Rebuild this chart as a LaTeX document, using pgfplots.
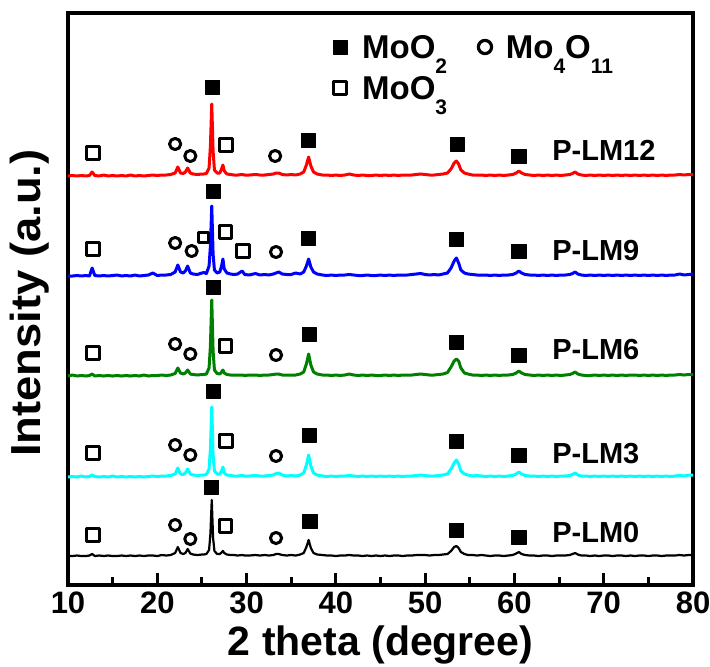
\documentclass[border=0pt]{standalone}
\usepackage{pgfplots}
\pgfplotsset{compat=1.18}
\usepackage{pgfplotstable}
\usepackage{fontspec}
\setmainfont{Liberation Sans}
\newcommand\sub[1]{\raisebox{-0.46em}{\fontsize{10.5}{10.5}\selectfont #1}}

% offsets above each trace's baseline (R: P-LM12, B: P-LM9, G: P-LM6, C: P-LM3, K: P-LM0)
\pgfplotstableread{
x R B G C K
10.0 0 0 0 0 0
10.5 0.5 0 1 0.5 0
11.0 0 0.5 0 0 0.5
11.5 0.5 0 0.5 1 0
12.0 0 0.5 0 0 0
12.4 0.5 0 0.5 0.5 0.5
12.7 4 8 2 2 2
13.0 0.5 0.5 0 0.5 0
13.5 0 0 0.5 0 0.5
14.0 1 0.5 0 0.5 0
14.5 0 0 0.5 0 0.5
15.0 0.5 0.5 0 1 0
15.5 0 1 0.5 0 0
16.0 0.5 0 0 0.5 0.5
16.5 0 0.5 0.5 0 0
17.0 1 0 0 0.5 0.5
17.5 0 1 0.5 0 0
18.0 0.5 0 0 0.5 0.5
18.5 0 0.5 1 0 0
19.0 0.5 1 0 0.5 0.5
19.5 1 3 0.5 1 0.5
20.0 0.5 0.5 0.5 0.5 0
20.5 1 1 1 1 1
21.0 1 1 0.5 1 0.5
21.5 1.5 1.5 1 1.5 1
22.0 3 4 2.5 3 3
22.3 9 11 8 9 9
22.6 3 4 3 3 3
22.9 2.5 3 2 2.5 2
23.15 4 5 3 4 3
23.4 8 10 6 8 7
23.7 3 3 2 3 2.5
24.0 2 2 1.5 2 1.5
24.5 1.5 1.5 1 1.5 1
25.0 2 3 1.5 2 1.5
25.2 2 3.5 1.5 2 1.5
25.5 2.5 2.5 2 2.5 2
25.8 8 10 8 8 6
25.95 30 30 30 28 22
26.1 72 70 76 70 56
26.25 25 22 25 22 18
26.4 6 6 6 6 5
26.7 3 3 2.5 3 2
27.0 3 4 2 3 2
27.2 7 10 4 6 3.5
27.35 11 17 6 10 5
27.5 5 7 3 4 3
27.8 2 3 1.5 2 1.5
28.2 1.5 2 1 1.5 1
28.6 1 1.5 1 1 1
29.0 1 2 1 1 0.5
29.5 1.5 5 1 1.5 1
29.8 1 1.5 0.5 1 0.5
30.3 1 1 1 1 0.5
31.0 1.5 2.5 1 1.5 1
31.5 1 1 0.5 1 0.5
32.0 1 1.5 1 1 1
32.5 1.5 1 1 1.5 0.5
33.0 2 2 1.5 2 1
33.3 3 3 2 3.5 2
33.6 3 4 2 4 2
34.0 1.5 2 1 2 1
34.5 1 1.5 1 1 0.5
35.0 1.5 1.5 1 1.5 1
35.5 1 3 1 1 0.5
36.0 2 2 2 2 1.5
36.4 4 4 4 4 3
36.7 11 10 12 12 9
36.95 19 17 22 22 16
37.2 10 9 11 11 8
37.5 4 4 4 4 3
37.9 2 2 2 2 1.5
38.5 1 1 1 1 1
39.0 1 0.5 1 0.5 0.5
39.5 0.5 1 0.5 1 0.5
40.0 1 0.5 1 0.5 0
40.5 0.5 1 0.5 1 0.5
41.0 1 1 1 1 0.5
41.5 2 1.5 2 1.5 1
42.0 1 1 1 1 0.5
42.5 0.5 0.5 0.5 0.5 0.5
43.0 1 0.5 1 1 0
43.5 0.5 1 0.5 0.5 0.5
44.0 0.5 0.5 1 1 0
44.5 1 0.5 0.5 0.5 0.5
45.0 0.5 1 0.5 1 0
45.5 1 0.5 1 0.5 0.5
46.0 0.5 1 0.5 1 0
46.5 1 0.5 1 0.5 0.5
47.0 0.5 1 0.5 1 0.5
47.5 1 1 1 0.5 0
48.0 1 1 1 1 0.5
48.5 1 1.5 1 1 0.5
49.0 1.5 2 1.5 1.5 1
49.5 2 2.5 2 2 1
50.0 1.5 1.5 1.5 1.5 1
50.5 1 1 1 1 0.5
51.0 1 1.5 1 1 1
51.5 1.5 1 1.5 1.5 1
52.0 2 2 2 2 1.5
52.5 3 3 3.5 3 2
52.9 7 8 9 8 5
53.25 13 15 15 14 9
53.5 15 18 17 17 10
53.75 12 13 15 13 8
54.0 6 6 8 6 4
54.4 3 3 3 3 2
54.8 2 2 2 2 1
55.3 1 1.5 1 1 1
55.8 1 1 1 1.5 0.5
56.3 1 1 0.5 1 1
56.8 0.5 1 1 0.5 0.5
57.3 1 0.5 0.5 1 0
57.8 0.5 1 1 0.5 0.5
58.3 1 0.5 0.5 1 0.5
58.8 0.5 1 1 0.5 0
59.3 1 1 1 1 0.5
59.8 1.5 1.5 1.5 1.5 1
60.2 3 3 3 3 2.5
60.5 5 5 5 5 4
60.8 3 3 3 3 2
61.2 1.5 1.5 1.5 1.5 1
61.7 1 1 1 1 0.5
62.2 0.5 1 0.5 1 0.5
62.7 1 0.5 1 0.5 0
63.2 0.5 1 0.5 1 0.5
63.7 1 0.5 1 0.5 0.5
64.2 0.5 1 0.5 1 0
64.7 1 0.5 1 0.5 0.5
65.2 0.5 1 0.5 1 0.5
65.7 1 1 1 1 0.5
66.2 1.5 1.5 1.5 1.5 1
66.5 2.5 2.5 2.5 2.5 2
66.8 4 4 4 4 3
67.1 2 2 2 2 1.5
67.5 1 1 1 1 0.5
68.0 0.5 0.5 0.5 1 0.5
68.5 1 1 0.5 0.5 0
69.0 0.5 0.5 1 1 0.5
69.5 1 1 0.5 0.5 0
70.0 0.5 0.5 1 1 0.5
70.5 1 1 0.5 0.5 0.5
71.0 0.5 0.5 1 1 0
71.5 1 1 0.5 0.5 0.5
72.0 0.5 0.5 1 1 0.5
72.5 1 1 0.5 0.5 0
73.0 0.5 0.5 1 1 0.5
73.5 1 1 1 0.5 0
74.0 0.5 0.5 0.5 1 0.5
74.5 1 1 1 0.5 0.5
75.0 0.5 0.5 0.5 1 0
75.5 1 1 1 0.5 0.5
76.0 0.5 0.5 0.5 1 0.5
76.5 1 1 1 0.5 0
77.0 0.5 0.5 0.5 1 0.5
77.5 1 1 1 0.5 0.5
78.0 1 1 1 1 0.5
78.5 1.5 2 1.5 1.5 1
79.0 1 1 1 1 0.5
79.5 1.5 1.5 1.5 2 1
80.0 1.5 2 1.5 2 1
}\xrd

\definecolor{xgreen}{RGB}{0,128,0}
\definecolor{xcyan}{RGB}{0,255,255}

\begin{document}
\begin{tikzpicture}
\begin{axis}[
  scale only axis, width=312.5pt, height=286pt,
  xmin=10, xmax=80, ymin=0, ymax=572,
  xtick={10,20,...,80}, minor xtick={15,25,...,75},
  ytick=\empty,
  xtick pos=bottom,
  tick align=inside,
  major tick length=6pt, minor tick length=4pt,
  tick style={line width=1.5pt, black},
  axis line style={line width=2pt},
  /pgf/number format/assume math mode=true,
  xticklabel style={font=\fontsize{15.5}{15.5}\selectfont\bfseries},
  xlabel={2 theta (degree)},
  ylabel={\scalebox{1.08}[1]{Intensity (a.u.)}},
  xlabel style={font=\fontsize{20.5}{20.5}\selectfont\bfseries, at={(axis description cs:0.5,-0.105)}, anchor=center},
  ylabel style={font=\fontsize{21}{21}\selectfont\bfseries, at={(axis description cs:-0.062,0.493)}, anchor=center},
  clip=false,
  every axis plot/.append style={line join=round},
]
\addplot[red, line width=1.5pt] table[x=x, y expr=\thisrow{R}+409] {\xrd};
\addplot[blue, line width=1.5pt] table[x=x, y expr=\thisrow{B}+309] {\xrd};
\addplot[xgreen, line width=1.5pt] table[x=x, y expr=\thisrow{G}+209] {\xrd};
\addplot[xcyan, line width=1.5pt] table[x=x, y expr=\thisrow{C}+108] {\xrd};
\addplot[black, line width=1.1pt] table[x=x, y expr=\thisrow{K}+29] {\xrd};

% MoO2 (filled squares)
\addplot[only marks, mark=square*, mark size=3.55pt, black] coordinates {
 (26.2,498) (36.9,445) (53.6,441) (60.5,429)
 (26.3,394) (36.9,347) (53.5,346) (60.5,334)
 (26.3,298) (37.0,251) (53.5,243) (60.5,230)
 (26.3,194) (37.0,150) (53.5,144) (60.5,130)
 (26.1,98) (37.1,64) (53.5,55) (60.5,48)
 (40.5,538)
};
% MoO3 (open squares)
\addplot[only marks, mark=square, mark size=3.2pt, black, mark options={line width=1.5pt}] coordinates {
 (12.8,432) (27.7,440)
 (12.8,336) (27.65,353) (29.6,334)
 (12.8,232) (27.65,239)
 (12.8,132) (27.7,144)
 (12.8,50) (27.65,59)
 (40.5,497)
};
\addplot[only marks, mark=square, mark size=2.5pt, black, mark options={line width=1.5pt}] coordinates {
 (25.15,348)
};
% Mo4O11 (open circles)
\addplot[only marks, mark=o, mark size=2.8pt, black, mark options={line width=1.5pt}] coordinates {
 (22.0,441) (23.7,429) (33.2,429)
 (22.0,342) (23.85,334) (33.3,333)
 (22.0,241) (23.7,231) (33.3,230)
 (22.0,140) (23.7,130) (33.3,129)
 (22.0,60) (23.7,46) (33.3,47)
};
\addplot[only marks, mark=o, mark size=3.3pt, black, mark options={line width=1.6pt}] coordinates {
 (56.7,538)
};

\begin{scope}[every node/.style={font=\fontsize{14.5}{14.5}\selectfont\bfseries, anchor=west, inner sep=0pt}]
\node at (axis cs:64.2,435) {P-LM12};
\node at (axis cs:64.2,334) {P-LM9};
\node at (axis cs:64.2,235) {P-LM6};
\node at (axis cs:64.2,131) {P-LM3};
\node at (axis cs:64.2,52) {P-LM0};
\end{scope}
\begin{scope}[every node/.style={font=\fontsize{16.5}{16.5}\selectfont\bfseries, anchor=base west, inner sep=0pt}]
\node at (axis cs:42.9,527) {MoO\sub{2}};
\node at (axis cs:59.0,527) {Mo\sub{4}O\sub{11}};
\node at (axis cs:42.9,486) {MoO\sub{3}};
\end{scope}
\end{axis}
\pgfresetboundingbox
\useasboundingbox ([shift={(-34pt,-40.5pt)}]current axis.south west) rectangle ([shift={(8.5pt,6.5pt)}]current axis.north east);
\end{tikzpicture}
\end{document}
